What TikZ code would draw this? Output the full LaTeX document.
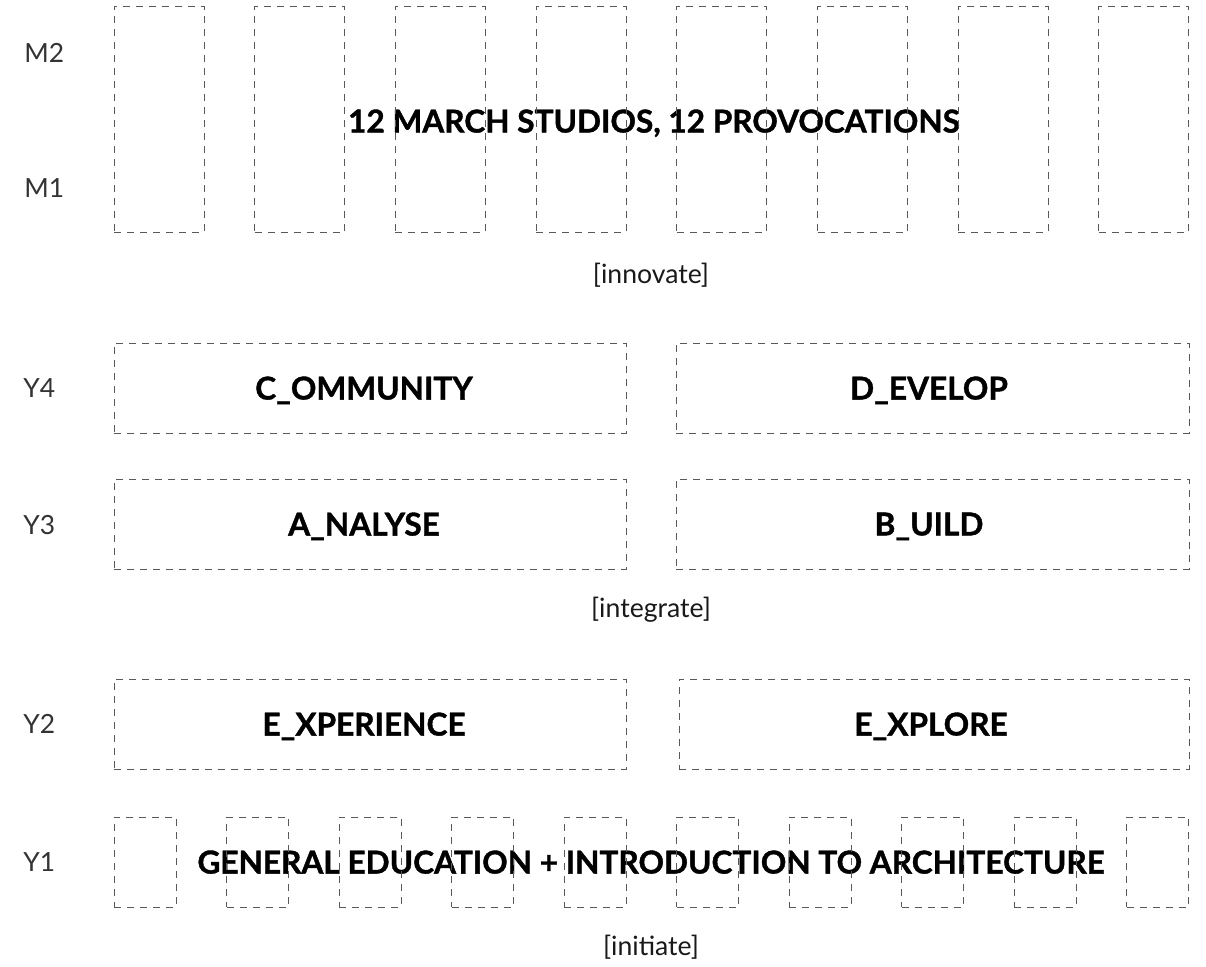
\documentclass[tikz,border=0pt]{standalone}
\usepackage{fontspec}
\setmainfont{Lato}[BoldFeatures={FakeBold=1.2}]
\usetikzlibrary{positioning}
\tikzset{
  slot/.style={draw=black!65, dash pattern=on 3.5pt off 3pt, line width=0.5pt, inner sep=0pt},
  yearlab/.style={anchor=west, inner sep=0pt, text depth=0pt, text=black!80, font=\fontsize{13.2}{15}\selectfont},
  theme/.style={inner sep=0pt, text depth=0pt, font=\bfseries\fontsize{15.8}{18}\selectfont},
  phase/.style={inner sep=0pt, text=black!90, font=\fontsize{13.3}{15}\selectfont},
}

\begin{document}
\begin{tikzpicture}[x=0.5pt,y=-0.5pt]
  \useasboundingbox (0,0) rectangle (1206,966);
  % year labels
  \node[yearlab] (m2) at (24,53) {M2};
  \node[yearlab] (m1) at (24,188) {M1};
  \node[yearlab] (y4) at (23,388) {Y4};
  \node[yearlab] (y3) at (23,525) {Y3};
  \node[yearlab] (y2) at (23,724) {Y2};
  \node[yearlab] (y1) at (23,862) {Y1};
  % themes
  \node[theme] (studios) at (654,121) {12 MARCH STUDIOS, 12 PROVOCATIONS};
  \node[theme] (community) at (364,388) {C\_OMMUNITY};
  \node[theme] (develop) at (929,388) {D\_EVELOP};
  \node[theme] (analyse) at (364,524) {A\_NALYSE};
  \node[theme] (build) at (929,524) {B\_UILD};
  \node[theme] (experience) at (364,724) {E\_XPERIENCE};
  \node[theme] (explore) at (931,724) {E\_XPLORE};
  \node[theme] (gened) at (651,862) {GENERAL EDUCATION + INTRODUCTION TO ARCHITECTURE};
  % phases
  \node[phase] (innovate) at (651,275) {[innovate]};
  \node[phase] (integrate) at (651,610) {[integrate]};
  \node[phase] (initiate) at (651,947) {[initiate]};
  % studio slots, master
  \foreach \i in {0,...,7}{
    \node[slot, minimum width=45pt, minimum height=113pt] (ms\i) at ({159+140.7*\i},119) {};
  }
  % year 4 and 3
  \node[slot, minimum width=256pt, minimum height=45pt] (c4) at (370,388) {};
  \node[slot, minimum width=256.5pt, minimum height=45pt] (d4) at (932.5,388) {};
  \node[slot, minimum width=256pt, minimum height=45pt] (a3) at (370,524) {};
  \node[slot, minimum width=256.5pt, minimum height=45pt] (b3) at (932.5,524) {};
  % year 2
  \node[slot, minimum width=256pt, minimum height=45pt] (e2a) at (370,724) {};
  \node[slot, minimum width=255pt, minimum height=45pt] (e2b) at (934,724) {};
  % year 1 slots
  \foreach \i in {0,...,9}{
    \node[slot, minimum width=31pt, minimum height=45pt] (ys\i) at ({145+112.5*\i},862) {};
  }
\end{tikzpicture}
\end{document}
